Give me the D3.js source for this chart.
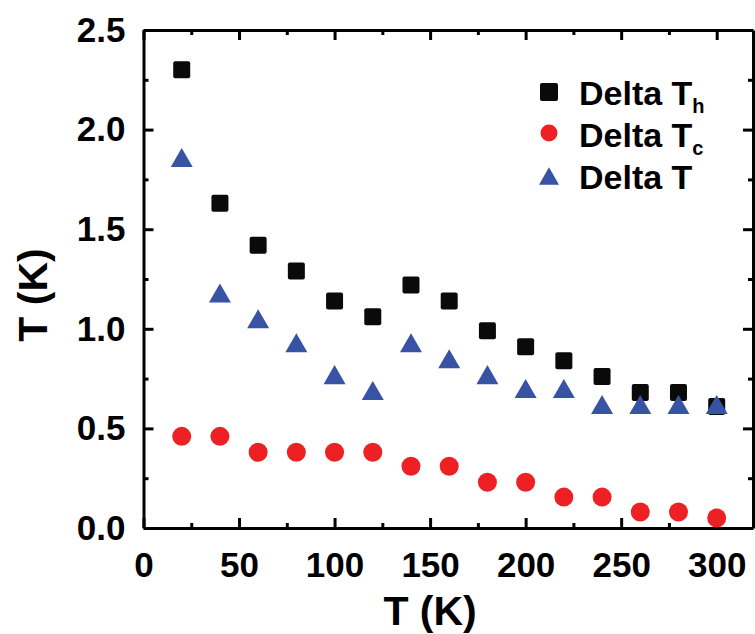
<!DOCTYPE html>
<html>
<head>
<meta charset="utf-8">
<script src="https://cdn.jsdelivr.net/npm/d3@7"></script>
<style>
  body { margin: 0; background: #fff; }
  svg text { font-family: "Liberation Sans", Arial, sans-serif; font-weight: bold; }
</style>
</head>
<body>
<div id="chart"></div>
<script>
// data
const tempK   = [20, 40, 60, 80, 100, 120, 140, 160, 180, 200, 220, 240, 260, 280, 300];
const deltaTh = [2.30, 1.63, 1.42, 1.29, 1.14, 1.06, 1.22, 1.14, 0.99, 0.91, 0.84, 0.76, 0.68, 0.68, 0.61];
const deltaTc = [0.46, 0.46, 0.38, 0.38, 0.38, 0.38, 0.31, 0.31, 0.23, 0.23, 0.155, 0.155, 0.08, 0.08, 0.05];
const deltaT  = [1.86, 1.18, 1.05, 0.93, 0.77, 0.69, 0.93, 0.85, 0.77, 0.70, 0.70, 0.62, 0.62, 0.62, 0.62];

const xTicks = [0, 50, 100, 150, 200, 250, 300];
const xMinor = [25, 75, 125, 175, 225, 275];
const yTicks = [0, 0.5, 1.0, 1.5, 2.0, 2.5];
const yMinor = [0.25, 0.75, 1.25, 1.75, 2.25];

const legendNames = [["Delta T", "h"], ["Delta T", "c"], ["Delta T", ""]];

// set the dimensions and margins of the graph
const W = 755, H = 634;
const margin = {top: 30, right: 2, bottom: 106, left: 143.5};
const width = W - margin.left - margin.right,
      height = H - margin.top - margin.bottom;

const svg = d3.select("#chart").append("svg")
    .attr("width", W)
    .attr("height", H)
  .append("g")
    .attr("transform", `translate(${margin.left},${margin.top})`);

const x = d3.scaleLinear().domain([0, 319]).range([0, width]);
const y = d3.scaleLinear().domain([0, 2.5]).range([height, 0]);

// axes: major ticks inward with labels, minor ticks inward, mirrored top/right
function styleAxis(g) {
  g.selectAll("path, line").attr("stroke", "#000").attr("stroke-width", 3);
  g.selectAll("text").attr("fill", "#000").style("font-size", "35px");
}

svg.append("g")
    .attr("transform", `translate(0,${height})`)
    .call(d3.axisBottom(x).tickValues(xTicks).tickFormat(d3.format("d"))
      .tickSizeInner(-10).tickSizeOuter(0).tickPadding(24))
    .call(styleAxis);
svg.append("g")
    .attr("transform", `translate(0,${height})`)
    .call(d3.axisBottom(x).tickValues(xMinor).tickFormat("").tickSize(-5))
    .call(styleAxis).call(g => g.select(".domain").remove());

svg.append("g")
    .call(d3.axisLeft(y).tickValues(yTicks).tickFormat(d3.format(".1f"))
      .tickSizeInner(-10).tickSizeOuter(0).tickPadding(18))
    .call(styleAxis);
svg.append("g")
    .call(d3.axisLeft(y).tickValues(yMinor).tickFormat("").tickSize(-5))
    .call(styleAxis).call(g => g.select(".domain").remove());

svg.append("g")
    .call(d3.axisTop(x).tickValues(xTicks).tickFormat("").tickSizeInner(-10).tickSizeOuter(0))
    .call(styleAxis);
svg.append("g")
    .call(d3.axisTop(x).tickValues(xMinor).tickFormat("").tickSize(-5))
    .call(styleAxis).call(g => g.select(".domain").remove());

svg.append("g")
    .attr("transform", `translate(${width},0)`)
    .call(d3.axisRight(y).tickValues(yTicks).tickFormat("").tickSizeInner(-10).tickSizeOuter(0))
    .call(styleAxis);
svg.append("g")
    .attr("transform", `translate(${width},0)`)
    .call(d3.axisRight(y).tickValues(yMinor).tickFormat("").tickSize(-5))
    .call(styleAxis).call(g => g.select(".domain").remove());

// axis titles
svg.append("text")
    .attr("x", x(150)).attr("y", height + 97)
    .attr("text-anchor", "middle")
    .style("font-size", "41px")
    .text("T (K)");
svg.append("text")
    .attr("transform", `translate(${47 - margin.left},${265}) rotate(-90)`)
    .attr("text-anchor", "middle")
    .style("font-size", "41px")
    .text("T (K)");

// marker shapes (centered on their bounding box)
const triShape = {
  draw(ctx, s) {
    const w = s, h = s * Math.sqrt(3) / 2;
    ctx.moveTo(0, -h / 2);
    ctx.lineTo(w / 2, h / 2);
    ctx.lineTo(-w / 2, h / 2);
    ctx.closePath();
  }
};

const colTh = "#0a0a0a", colTc = "#ed2024", colT = "#3953a4";

// Delta T_h : squares
svg.append("g").selectAll("rect")
  .data(tempK.map((t, i) => ({t, v: deltaTh[i]})))
  .join("rect")
    .attr("x", d => x(d.t) - 8.5)
    .attr("y", d => y(d.v) - 8.5)
    .attr("width", 17).attr("height", 17)
    .attr("rx", 2)
    .attr("fill", colTh);

// Delta T_c : circles
svg.append("g").selectAll("circle")
  .data(tempK.map((t, i) => ({t, v: deltaTc[i]})))
  .join("circle")
    .attr("cx", d => x(d.t))
    .attr("cy", d => y(d.v))
    .attr("r", 9.5)
    .attr("fill", colTc);

// Delta T : triangles
svg.append("g").selectAll("path")
  .data(tempK.map((t, i) => ({t, v: deltaT[i]})))
  .join("path")
    .attr("transform", d => `translate(${x(d.t)},${y(d.v)})`)
    .attr("d", d3.symbol().type(triShape).size(22))
    .attr("fill", colT);

// legend
const legend = svg.append("g").attr("transform", `translate(${549 - margin.left},${92 - margin.top})`);
const rowGap = 42;
legend.append("rect").attr("x", -9).attr("y", -9).attr("width", 18).attr("height", 18).attr("rx", 2).attr("fill", colTh);
legend.append("circle").attr("cx", 0).attr("cy", rowGap - 1).attr("r", 8.5).attr("fill", colTc);
legend.append("path").attr("transform", `translate(0,${2 * rowGap})`)
    .attr("d", d3.symbol().type(triShape).size(20)).attr("fill", colT);

legendNames.forEach((n, i) => {
  const t = legend.append("text")
      .attr("x", 30).attr("y", 13 + i * rowGap)
      .style("font-size", "34px");
  t.append("tspan").text(n[0]);
  if (n[1]) t.append("tspan").attr("dy", 8).style("font-size", "20px").text(n[1]);
});
</script>
</body>
</html>
